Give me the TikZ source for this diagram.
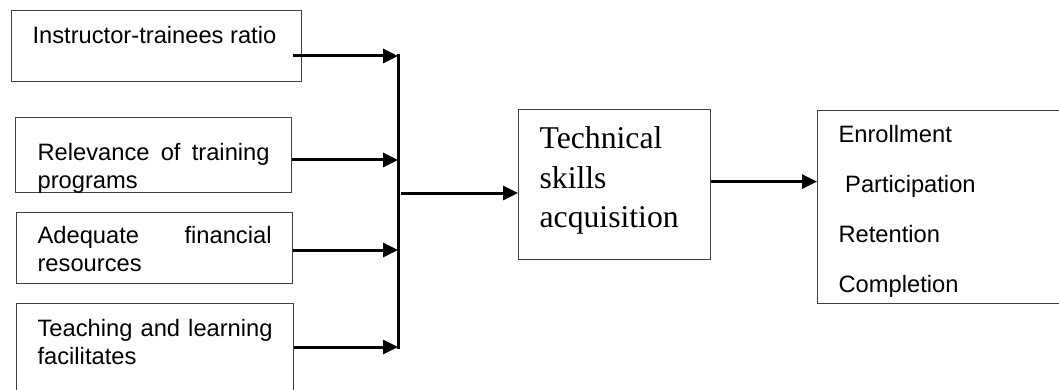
\documentclass[tikz,border=0pt]{standalone}
\usepackage{fontspec}
\setmainfont{Liberation Sans}
\newfontfamily\serifface{Liberation Serif}
\usetikzlibrary{positioning,arrows.meta}
\hyphenpenalty=10000
\tikzset{
  box/.style={draw=black!75, line width=1.2pt, anchor=north west, inner ysep=0pt,
              align=justify, font=\fontsize{23.7}{27.6}\selectfont},
  arr/.style={-{Triangle[length=15pt, width=14pt]}, line width=3pt},
  bus/.style={line width=3pt, line cap=rect},
}

\begin{document}
\begin{tikzpicture}[x=1pt, y=-1pt]
  \useasboundingbox (0,0) rectangle (1059,390);

  % factors on the left
  \node[box, inner xsep=21pt, text width=248pt, text height=33pt, text depth=38pt]
    (ratio) at (11,10) {Instructor-trainees ratio};
  \node[box, inner xsep=22pt, text width=232pt, text height=43pt, text depth=32pt]
    (relevance) at (15,117) {Relevance of training programs};
  \node[box, inner xsep=21pt, text width=234pt, text height=31pt, text depth=40pt]
    (finance) at (16,212) {Adequate financial resources};
  \node[box, inner xsep=21pt, text width=235pt, text height=33pt, text depth=64pt]
    (facilities) at (16,303) {Teaching and learning facilitates};

  % middle and outcome boxes
  \node[box, align=left, inner xsep=21pt, text width=150pt, text height=39pt, text depth=111pt,
        font=\serifface\fontsize{31.7}{39.5}\selectfont]
    (skills) at (518,109) {Technical\\skills\\acquisition};
  \node[box, align=left, inner xsep=21pt, text width=216pt, text height=32pt, text depth=161pt,
        font=\fontsize{23.7}{50}\selectfont]
    (outcome) at (817,110)
    {Enrollment\\\hspace*{6.6pt}Participation\\Retention\\Completion};

  % collecting bar
  \coordinate (b1) at (398,56);
  \coordinate (b2) at (398,160);
  \coordinate (b3) at (398,250);
  \coordinate (b4) at (398,347);
  \coordinate (bj) at (401,193);
  \draw[bus] (b1) -- (b4);

  \draw[arr] ([xshift=-9pt]ratio.east |- b1) -- (b1);
  \draw[arr] (relevance.east |- b2) -- (b2);
  \draw[arr] (finance.east |- b3) -- (b3);
  \draw[arr] (facilities.east |- b4) -- (b4);

  \draw[arr] (bj) -- (bj -| skills.west);
  \draw[arr] ([yshift=3pt]skills.east) -- ([yshift=3pt]skills.east -| outcome.west);
\end{tikzpicture}
\end{document}
